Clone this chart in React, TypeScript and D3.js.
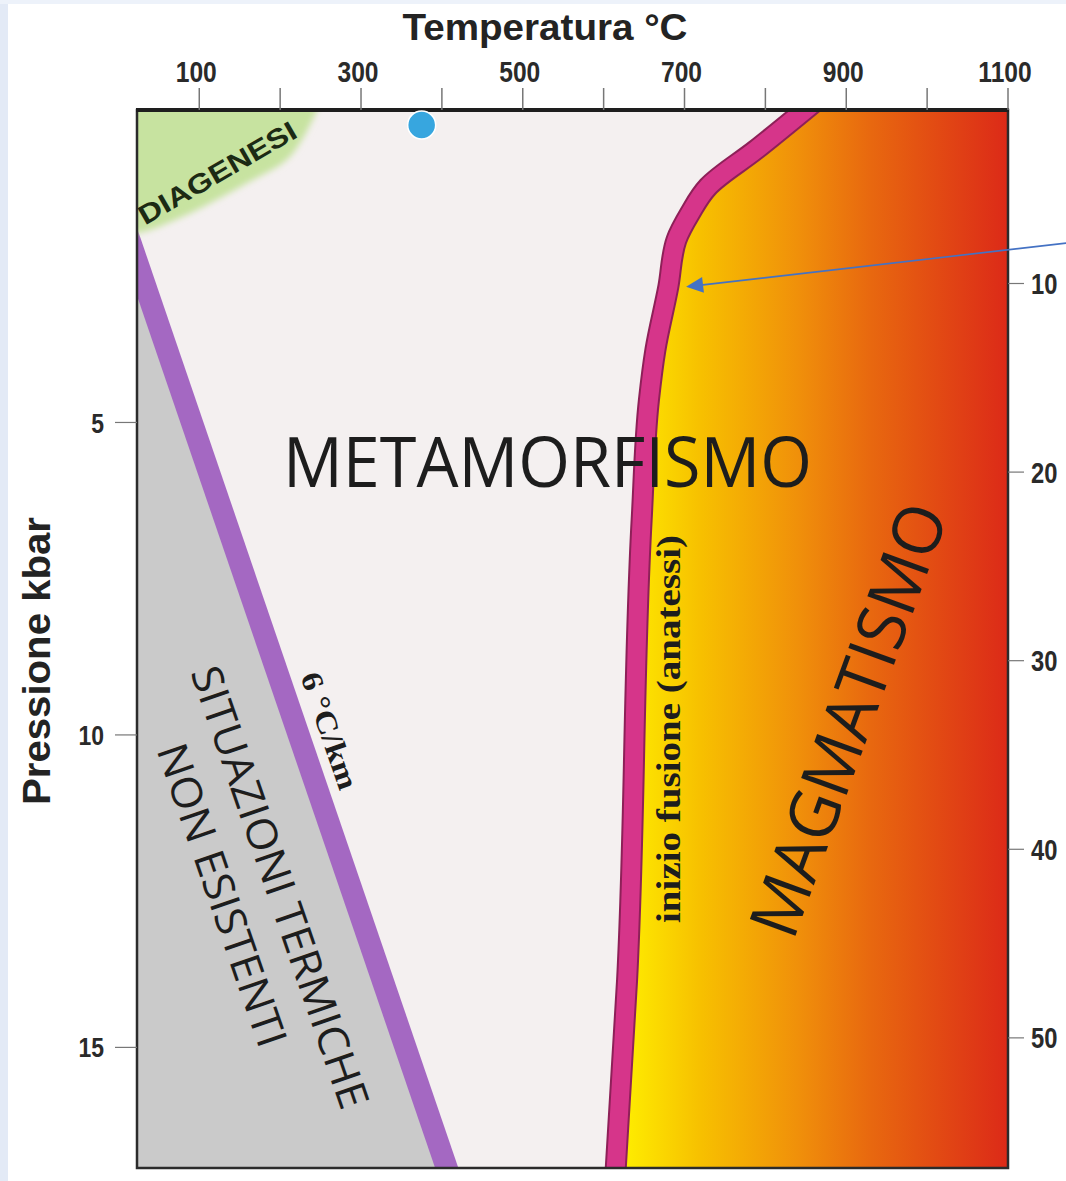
import React from "react";
import * as d3 from "d3";

// ---------- data ----------
const tempTicks = [100, 200, 300, 400, 500, 600, 700, 800, 900, 1000, 1100];
const tempTickLabels = ["100", "", "300", "", "500", "", "700", "", "900", "", "1100"];
const pressureTicks = [5, 10, 15];
const depthTicks = [10, 20, 30, 40, 50];

const tempDomain = [23, 1100];
const pressureDomain = [0, 16.93];
const depthDomain = [0.8, 56.9];

// solidus (inizio fusione) curve: temperature °C / pressure kbar
const meltT = [849, 788, 729, 707, 690, 680, 664, 656, 647, 629, 615];
const meltP = [0, 0.64, 1.23, 1.65, 2.08, 2.83, 3.84, 4.64, 6.56, 13.92, 16.93];

// 6 °C/km geotherm
const geothermT = [23, 406];
const geothermP = [2.43, 16.93];

// diagenesis field boundary
const diagT = [246, 212, 159, 97, 39, 23];
const diagP = [0, 0.75, 1.17, 1.6, 1.92, 1.97];

// blue marker
const markerT = [375];
const markerP = [0.24];

// annotation arrow (start, tip)
const arrowT = [1172, 702];
const arrowP = [2.13, 2.83];

const W = 1066;
const H = 1181;

export default function App() {
  const L = 137, R = 1008, T = 110, B = 1168;
  const x = d3.scaleLinear().domain(tempDomain).range([L, R]);
  const y = d3.scaleLinear().domain(pressureDomain).range([T, B]);
  const yd = d3.scaleLinear().domain(depthDomain).range([T, B]);

  type Pt = [number, number];
  const melt: Pt[] = meltT.map((t, i) => [t, meltP[i]]);
  const geo: Pt[] = geothermT.map((t, i) => [t, geothermP[i]]);
  const diag: Pt[] = diagT.map((t, i) => [t, diagP[i]]);

  const line = d3.line<Pt>().x((d) => x(d[0])).y((d) => y(d[1])).curve(d3.curveCatmullRom.alpha(0.5));
  const meltLine = d3.line<Pt>().x((d) => x(d[0])).y((d) => y(d[1])).curve(d3.curveMonotoneY);
  const lineStraight = d3.line<Pt>().x((d) => x(d[0])).y((d) => y(d[1]));
  const magmaArea = d3
    .area<Pt>()
    .x0((d) => x(d[0]))
    .x1(() => x(tempDomain[1]) + 10)
    .y((d) => y(d[1]))
    .curve(d3.curveMonotoneY);

  // geotherm band in pixels, drawn a little past its ends so the clip makes clean edges
  const g0x = x(geo[0][0]), g0y = y(geo[0][1]), g1x = x(geo[1][0]), g1y = y(geo[1][1]);
  const glen = Math.hypot(g1x - g0x, g1y - g0y);
  const gux = (g1x - g0x) / glen, guy = (g1y - g0y) / glen;
  const geoBand = `M${g0x - gux * 80},${g0y - guy * 80}L${g1x + gux * 40},${g1y + guy * 40}`;

  const grayPoly: Pt[] = [geo[0], geo[1], [tempDomain[0], pressureDomain[1]]];
  const grayPath = lineStraight(grayPoly) + "Z";

  const diagLine = line(diag) as string;
  const diagPath =
    `M${x(diag[0][0]) + 10},${y(0) - 30}` +
    "L" + diagLine.slice(1) +
    `L${x(tempDomain[0]) - 30},${y(diag[diag.length - 1][1]) + 5}` +
    `L${x(tempDomain[0]) - 30},${y(0) - 30}Z`;

  const gradStops: [number, string][] = [
    [615, "#fff200"],
    [720, "#f7c000"],
    [840, "#f0900a"],
    [930, "#e8680f"],
    [1100, "#dc2a18"],
  ];
  const gx1 = x(615), gx2 = x(1100);

  const ax = x(arrowT[0]), ay = y(arrowP[0]);
  const tx = x(arrowT[1]), ty = y(arrowP[1]);
  const ang = Math.atan2(ty - ay, tx - ax);
  const ah = 17, aw = 8;
  const bx = tx - ah * Math.cos(ang), by = ty - ah * Math.sin(ang);
  const arrowHead = `M${tx},${ty}L${bx + aw * Math.sin(ang)},${by - aw * Math.cos(ang)}L${bx - aw * Math.sin(ang)},${by + aw * Math.cos(ang)}Z`;

  const sans = "'Liberation Sans', Arial, sans-serif";
  const light = "'Open Sans', 'Noto Sans', sans-serif";
  const serif = "'Liberation Serif', 'Times New Roman', serif";
  const squeeze = 0.82;

  return (
    <svg
      width={W}
      height={H}
      viewBox={`0 0 ${W} ${H}`}
      style={{ position: "absolute", left: 0, top: 0 }}
    >
      <defs>
        <clipPath id="plot">
          <rect x={L} y={T} width={R - L} height={B - T} />
        </clipPath>
        <linearGradient id="magma" gradientUnits="userSpaceOnUse" x1={gx1} x2={gx2} y1={0} y2={0}>
          {gradStops.map(([t, c], i) => (
            <stop key={i} offset={(x(t) - gx1) / (gx2 - gx1)} stopColor={c} />
          ))}
        </linearGradient>
        <filter id="soft" x="-20%" y="-20%" width="140%" height="140%">
          <feGaussianBlur stdDeviation="3" />
        </filter>
      </defs>

      {/* page background */}
      <rect x={0} y={0} width={W} height={H} fill="#ffffff" />
      <rect x={0} y={0} width={8} height={H} fill="#e3eaf6" />
      <rect x={0} y={0} width={W} height={4} fill="#edf2fa" />

      {/* plot content */}
      <g clipPath="url(#plot)">
        <rect x={L} y={T} width={R - L} height={B - T} fill="#f4f0f0" />
        <path d={grayPath} fill="#cacaca" />
        <path d={geoBand} fill="none" stroke="#a468c2" strokeWidth={22} />
        <path d={diagPath} fill="#c7e3a0" filter="url(#soft)" />
        <path d={magmaArea(melt) as string} fill="url(#magma)" />
        <path d={meltLine(melt) as string} fill="none" stroke="#8e2058" strokeWidth={22} strokeLinecap="square" />
        <path d={meltLine(melt) as string} fill="none" stroke="#d6358a" strokeWidth={18} strokeLinecap="square" />
      </g>

      {/* frame */}
      <rect x={L} y={T} width={R - L} height={B - T} fill="none" stroke="#2b2b2b" strokeWidth={2.5} />
      <line x1={L - 1} x2={R + 1} y1={T} y2={T} stroke="#1e1e1e" strokeWidth={4} />

      {/* blue marker */}
      {markerT.map((t, i) => (
        <circle key={i} cx={x(t)} cy={y(markerP[i])} r={14} fill="#37a6df" stroke="#ffffff" strokeWidth={1.5} />
      ))}

      {/* top axis */}
      {tempTicks.map((t, i) => (
        <g key={t}>
          <line x1={x(t)} x2={x(t)} y1={T - 22} y2={T} stroke="#777" strokeWidth={1.5} />
          {tempTickLabels[i] && (
            <text transform={`translate(${x(t) - 3},82) scale(${squeeze},1)`} textAnchor="middle" fontFamily={sans} fontWeight="bold" fontSize={30} fill="#2a2a2a">
              {tempTickLabels[i]}
            </text>
          )}
        </g>
      ))}
      <text x={545} y={40} textAnchor="middle" fontFamily={sans} fontWeight="bold" fontSize={36} fill="#232323" textLength={285} lengthAdjust="spacingAndGlyphs">
        Temperatura °C
      </text>

      {/* left axis */}
      {pressureTicks.map((p) => (
        <g key={p}>
          <line x1={L - 22} x2={L} y1={y(p)} y2={y(p)} stroke="#777" strokeWidth={1.2} />
          <text transform={`translate(104,${y(p)}) scale(${squeeze},1)`} dy="0.36em" textAnchor="end" fontFamily={sans} fontWeight="bold" fontSize={28} fill="#2a2a2a">
            {p}
          </text>
        </g>
      ))}
      <text transform={`translate(50,661) rotate(-90)`} textAnchor="middle" fontFamily={sans} fontWeight="bold" fontSize={38} fill="#232323" textLength={288} lengthAdjust="spacingAndGlyphs">
        Pressione  kbar
      </text>

      {/* right axis */}
      {depthTicks.map((d) => (
        <g key={d}>
          <line x1={R} x2={R + 16} y1={yd(d)} y2={yd(d)} stroke="#777" strokeWidth={1.2} />
          <text transform={`translate(1031,${yd(d)}) scale(${squeeze},1)`} dy="0.36em" textAnchor="start" fontFamily={sans} fontWeight="bold" fontSize={29} fill="#2a2a2a">
            {d}
          </text>
        </g>
      ))}

      {/* labels */}
      <text transform="translate(222,181) rotate(-30)" textAnchor="middle" fontFamily={sans} fontWeight="bold" fontSize={27} fill="#1c2a14" textLength={178} lengthAdjust="spacingAndGlyphs">
        DIAGENESI
      </text>
      <text x={283} y={487} fontFamily={light} fontSize={70} fill="#1d1d1d" textLength={529} lengthAdjust="spacingAndGlyphs">
        METAMORFISMO
      </text>
      <text transform="translate(871,728) rotate(-70)" textAnchor="middle" fontFamily={light} fontSize={68} fill="#1d1d1d" textLength={455} lengthAdjust="spacingAndGlyphs">
        MAGMATISMO
      </text>
      <text transform="translate(266,892) rotate(71)" textAnchor="middle" fontFamily={light} fontSize={42} fill="#1d1d1d" textLength={465} lengthAdjust="spacingAndGlyphs">
        SITUAZIONI TERMICHE
      </text>
      <text transform="translate(208,900) rotate(71)" textAnchor="middle" fontFamily={light} fontSize={42} fill="#1d1d1d" textLength={318} lengthAdjust="spacingAndGlyphs">
        NON ESISTENTI
      </text>
      <text transform="translate(320,734) rotate(71)" textAnchor="middle" fontFamily={serif} fontWeight="bold" fontSize={30} fill="#1d1d1d" textLength={122} lengthAdjust="spacingAndGlyphs">
        6 °C/km
      </text>
      <text transform="translate(680,729) rotate(-90)" textAnchor="middle" fontFamily={serif} fontWeight="bold" fontSize={33} fill="#1d1d1d" textLength={388} lengthAdjust="spacingAndGlyphs">
        inizio fusione (anatessi)
      </text>

      {/* arrow */}
      <line x1={ax} y1={ay} x2={bx} y2={by} stroke="#4472c4" strokeWidth={1.6} />
      <path d={arrowHead} fill="#4472c4" />
    </svg>
  );
}
